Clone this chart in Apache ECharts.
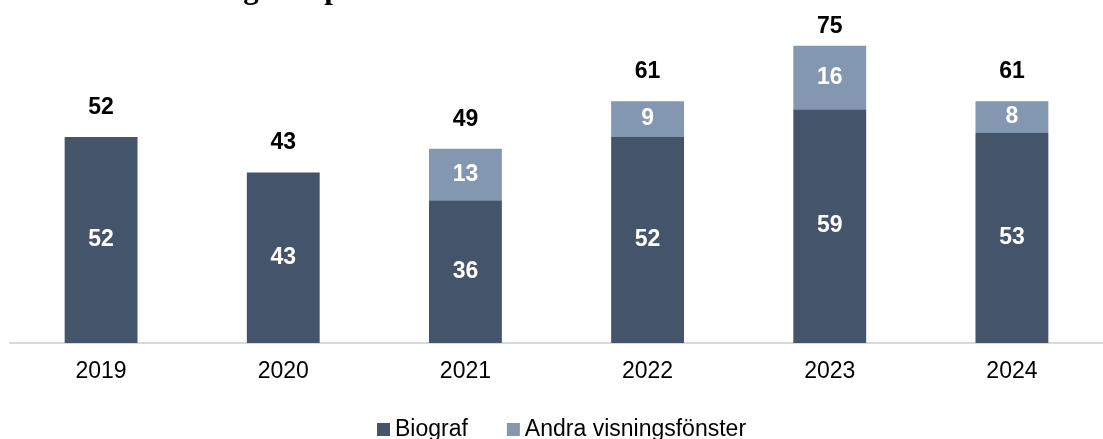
<!DOCTYPE html>
<html>
<head>
<meta charset="utf-8">
<script src="https://cdn.jsdelivr.net/npm/echarts@6/dist/echarts.min.js"></script>
<style>html,body{margin:0;padding:0;background:#fff;}#c{width:1103px;height:439px;}</style>
</head>
<body>
<div id="c"></div>
<script>
var titleText = 'Antal svenska långfilmspremiärer totalt';
var categories = ['2019', '2020', '2021', '2022', '2023', '2024'];
var biograf = [52, 43, 36, 52, 59, 53];
var andra = [null, null, 13, 9, 16, 8];
var totals = [52, 43, 49, 61, 75, 61];
var seriesNames = ['Biograf', 'Andra visningsfönster'];

var chart = echarts.init(document.getElementById('c'));
var font = 'Liberation Sans, Arial, sans-serif';
var labelDist = 18;
var minCenterY = 27;
chart.setOption({
  animation: false,
  title: {
    text: titleText,
    left: 4,
    top: -31,
    textStyle: {fontFamily: 'Liberation Serif, Times New Roman, serif', fontWeight: 'bold', fontSize: 31, color: '#000'}
  },
  grid: {left: 10, right: -11, top: 26, bottom: 96, containLabel: false},
  legend: {
    data: seriesNames,
    left: 372,
    top: 413,
    itemWidth: 13,
    itemHeight: 13,
    itemGap: 39,
    itemStyle: {borderWidth: 0},
    textStyle: {fontFamily: font, fontSize: 23, color: '#000'},
    icon: 'rect'
  },
  xAxis: {
    type: 'category',
    data: categories,
    axisLine: {lineStyle: {color: '#d9d9d9', width: 2}},
    axisTick: {show: false},
    axisLabel: {fontFamily: font, fontSize: 23, color: '#000', margin: 17}
  },
  yAxis: {type: 'value', min: 0, max: 80, show: false, splitLine: {show: false}},
  series: [
    {
      name: seriesNames[0], type: 'bar', stack: 'a', data: biograf, barWidth: '40%',
      itemStyle: {color: '#44546A'},
      label: {show: true, position: 'inside', color: '#fff', fontFamily: font, fontSize: 23, fontWeight: 'bold'}
    },
    {
      name: seriesNames[1], type: 'bar', stack: 'a', data: andra, barWidth: '40%',
      itemStyle: {color: '#8497B0'},
      label: {show: true, position: 'inside', color: '#fff', fontFamily: font, fontSize: 23, fontWeight: 'bold'}
    },
    {
      name: 'Totalt', type: 'bar', data: totals, barWidth: '40%', barGap: '-100%', silent: true, z: 1,
      itemStyle: {color: 'rgba(0,0,0,0)'},
      label: {show: true, position: 'top', distance: labelDist, color: '#000', fontFamily: font, fontSize: 23, fontWeight: 'bold', textBorderWidth: 0}
    }
  ]
});
// keep the total labels inside the canvas (as in the reference)
var totalItems = totals.map(function (v, i) {
  var py = chart.convertToPixel({gridIndex: 0}, [i, v])[1];
  var d = Math.min(labelDist, py - minCenterY - 11.5);
  return {value: v, label: {distance: d}};
});
chart.setOption({series: [{}, {}, {data: totalItems}]});
</script>
</body>
</html>
